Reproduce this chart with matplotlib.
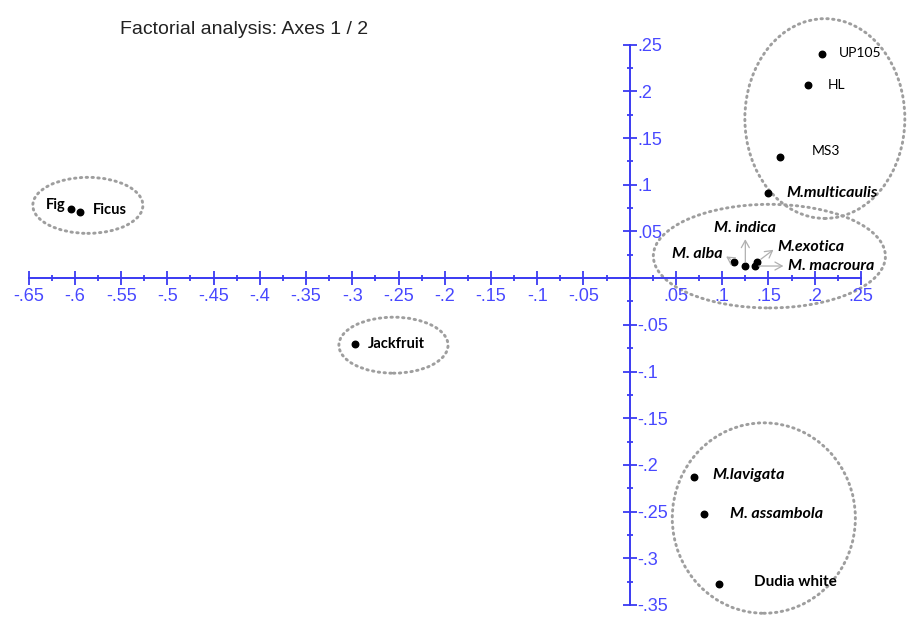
import numpy as np
import matplotlib
matplotlib.use("Agg")
import matplotlib.pyplot as plt
from matplotlib.patches import Ellipse
from matplotlib.ticker import FixedLocator

# ===== data (factor scores, axis 1 / axis 2) =====
names = ["UP105", "HL", "MS3", "M.multicaulis", "M. indica", "M.exotica",
         "M. macroura", "M. alba", "M.lavigata", "M. assambola", "Dudia white",
         "Fig", "Ficus", "Jackfruit"]
axis1 = [0.208, 0.193, 0.163, 0.149, 0.125, 0.138, 0.135, 0.113,
         0.069, 0.080, 0.096, -0.604, -0.594, -0.297]
axis2 = [0.240, 0.207, 0.130, 0.091, 0.013, 0.0175, 0.013, 0.0175,
         -0.213, -0.253, -0.328, 0.0736, 0.071, -0.071]

# cluster outlines: centre x, centre y, width, height
clusters = [(0.211, 0.171, 0.173, 0.214),
            (0.151, 0.0236, 0.251, 0.111),
            (0.145, -0.257, 0.198, 0.204),
            (-0.586, 0.078, 0.119, 0.060),
            (-0.2555, -0.0718, 0.118, 0.060)]

x_ticks = [-0.65, -0.6, -0.55, -0.5, -0.45, -0.4, -0.35, -0.3, -0.25, -0.2,
           -0.15, -0.1, -0.05, 0.0, 0.05, 0.1, 0.15, 0.2, 0.25]
y_ticks = [-0.35, -0.3, -0.25, -0.2, -0.15, -0.1, -0.05, 0.0,
           0.05, 0.1, 0.15, 0.2, 0.25]


def fmt(v):
    if abs(v) < 1e-9:
        return ""
    s = f"{v:.2f}".rstrip("0")
    return s.replace("0.", ".")


# label style: (dx px, dy px, ha, style, weight, size, arrow relpos or None)
label_style = {
    "UP105": (17, 1, "left", "normal", "normal", 10, None),
    "HL": (20, 0, "left", "normal", "normal", 10, None),
    "MS3": (31, 6, "left", "normal", "normal", 10, None),
    "M.multicaulis": (19, 0, "left", "italic", "bold", 11.5, None),
    "M. indica": (0, 38, "center", "italic", "bold", 11.5, (0.5, 0.0)),
    "M.exotica": (20, 15, "left", "italic", "bold", 11.5, (0.0, 0.5)),
    "M. macroura": (33, 0, "left", "italic", "bold", 11.5, (0.0, 0.5)),
    "M. alba": (-12, 8, "right", "italic", "bold", 11.5, (1.0, 0.5)),
    "M.lavigata": (19, 2, "left", "italic", "bold", 11.5, None),
    "M. assambola": (26, 0, "left", "italic", "bold", 11.5, None),
    "Dudia white": (35, 2, "left", "normal", "bold", 11, None),
    "Fig": (-6, 4, "right", "normal", "bold", 10.5, None),
    "Ficus": (12, 2, "left", "normal", "bold", 10.5, None),
    "Jackfruit": (13, 0, "left", "normal", "bold", 10.5, None),
}

blue = "#3a3af2"
tick_blue = "#4848ff"

fig = plt.figure(figsize=(9.09, 6.17), dpi=100)
ax = fig.add_axes([0, 0, 1, 1])
ax.set_xlim(-0.681, 0.302)
ax.set_ylim(-0.363, 0.298)

# axes through the origin
ax.spines["top"].set_visible(False)
ax.spines["left"].set_position(("data", 0))
ax.spines["right"].set_position(("data", 0))
ax.spines["bottom"].set_position(("data", 0))
ax.spines["right"].set_visible(False)
ax.spines["left"].set_bounds(y_ticks[0], y_ticks[-1])
ax.spines["bottom"].set_bounds(x_ticks[0], x_ticks[-1])
for side in ["left", "bottom"]:
    ax.spines[side].set_color(blue)
    ax.spines[side].set_linewidth(1.4)

ax.xaxis.set_major_locator(FixedLocator(x_ticks))
ax.xaxis.set_minor_locator(FixedLocator([(a + b) / 2 for a, b in zip(x_ticks[:-1], x_ticks[1:])]))
ax.set_xticklabels([fmt(v) for v in x_ticks])
ax.yaxis.set_major_locator(FixedLocator(y_ticks))
ax.yaxis.set_minor_locator(FixedLocator([(a + b) / 2 for a, b in zip(y_ticks[:-1], y_ticks[1:])]))
ax.set_yticklabels([fmt(v) for v in y_ticks])

ax.tick_params(axis="both", which="major", direction="inout", length=10, width=1.3,
               color=blue, labelcolor=tick_blue, labelsize=13)
ax.tick_params(axis="both", which="minor", direction="inout", length=4, width=1.3, color=blue)
ax.tick_params(axis="x", which="major", pad=2.4)
ax.tick_params(axis="y", which="both", left=True, right=False, labelleft=False, labelright=True)
ax.tick_params(axis="y", which="major", pad=0.5)
for lab in ax.get_xticklabels() + ax.get_yticklabels():
    lab.set_family("Liberation Sans")

# cluster outlines
for cx, cy, w, h in clusters:
    e = Ellipse((cx, cy), w, h, fill=False, edgecolor="#9e9e9e", linewidth=2.1,
                linestyle=(0, (0.5, 1.5)))
    e.set_capstyle("round")
    ax.add_patch(e)

ax.scatter(axis1, axis2, s=22, color="black", zorder=5)

for name, x, y in zip(names, axis1, axis2):
    dx, dy, ha, style, weight, size, relpos = label_style[name]
    arrow = None
    if relpos is not None:
        arrow = dict(arrowstyle="<-,head_length=0.45,head_width=0.25", color="#b0b0b0",
                     lw=0.9, relpos=relpos, shrinkA=1, shrinkB=3)
    ax.annotate(name, (x, y), xytext=(dx, dy), textcoords="offset pixels",
                ha=ha, va="center", fontsize=size, family="Lato",
                fontstyle=style, fontweight=weight, color="black",
                arrowprops=arrow, zorder=6)

fig.text(120 / 909, 1 - 30 / 617, "Factorial analysis: Axes 1 / 2", ha="left", va="center",
         fontsize=14, family="Liberation Sans", color="#222222")

fig.savefig("out.png", dpi=100)
